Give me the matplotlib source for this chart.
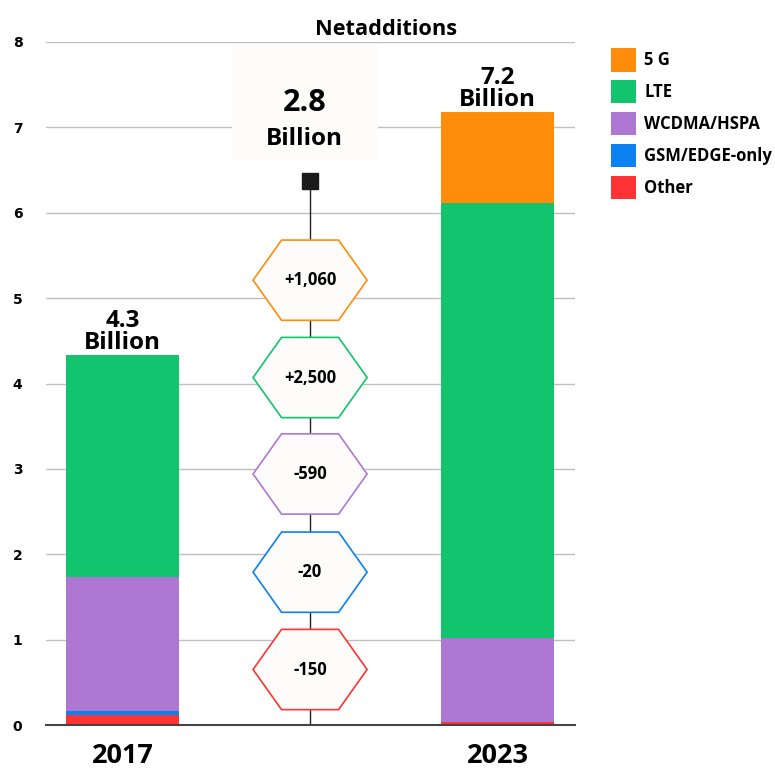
import matplotlib
matplotlib.use("Agg")
import matplotlib.pyplot as plt
from matplotlib.patches import Polygon, Rectangle, Patch

# Subscriptions by technology (billions)
years = ["2017", "2023"]
technologies = ["Other", "GSM/EDGE-only", "WCDMA/HSPA", "LTE", "5 G"]
subs_2017 = [0.12, 0.04, 1.57, 2.60, 0.0]
subs_2023 = [0.03, 0.0, 0.99, 5.09, 1.07]
# Net additions 2017-2023 (millions), same order as technologies
net_additions = ["-150", "-20", "-590", "+2,500", "+1,060"]
net_total = "2.8"
total_labels = ["4.3\nBillion", "7.2\nBillion"]
y_ticks = [0, 1, 2, 3, 4, 5, 6, 7, 8]

colors = ["#FF3333", "#0A82F0", "#AE78D2", "#12C46E", "#FF8C0A"]
TXT = "Open Sans"

fig = plt.figure(figsize=(7.75, 7.69), dpi=100)
ax = fig.add_axes([0.0594, 0.0572, 0.6826, 0.8882])

bar_x = [0, 2]
mid_x = 1
width = 0.603
for xi, vals in zip(bar_x, [subs_2017, subs_2023]):
    bottom = 0.0
    for v, c in zip(vals, colors):
        if v > 0:
            ax.bar(xi, v, width=width, bottom=bottom, color=c, zorder=3)
        bottom += v

# Totals above the bars
for xi, vals, lab in zip(bar_x, [subs_2017, subs_2023], total_labels):
    ax.text(xi, sum(vals) + 0.0, lab, ha="center", va="bottom",
            fontsize=17.5, fontweight="bold", family=TXT, linespacing=0.9,
            zorder=5)

# Middle column: stem, marker and hexagons with net additions
marker_y = 6.37
ax.plot([mid_x, mid_x], [0, marker_y], color="#222222", lw=1.0, zorder=3)
ax.plot([mid_x], [marker_y], marker="s", markersize=11.5, color="#1a1a1a",
        zorder=4)

hex_centers = [0.65, 1.79, 2.94, 4.07, 5.21]
hw = 0.304   # half width (x units)
hh = 0.47    # half height (y units)
for yc, lab, c in zip(hex_centers, net_additions, colors):
    pts = [(mid_x - hw, yc), (mid_x - hw / 2, yc + hh), (mid_x + hw / 2, yc + hh),
           (mid_x + hw, yc), (mid_x + hw / 2, yc - hh), (mid_x - hw / 2, yc - hh)]
    ax.add_patch(Polygon(pts, closed=True, facecolor="#fdfcfa", edgecolor=c,
                         lw=1.2, zorder=4))
    ax.text(mid_x, yc, lab, ha="center", va="center", fontsize=12,
            fontweight="bold", family=TXT, zorder=5)

# Label box for the total net additions
ax.add_patch(Rectangle((mid_x - 0.416, 6.62), 0.78, 1.34, facecolor="#fdfcfa",
                       edgecolor="none", zorder=2))
ax.text(mid_x - 0.03, 7.29, net_total, ha="center", va="center", fontsize=22,
        fontweight="bold", family=TXT, zorder=5)
ax.text(mid_x - 0.03, 6.86, "Billion", ha="center", va="center", fontsize=17.5,
        fontweight="bold", family=TXT, zorder=5)

# Axes styling
ax.set_xlim(-0.408, 2.413)
ax.set_ylim(0, 8)
ax.set_yticks(y_ticks)
ax.set_yticklabels([str(t) for t in y_ticks], fontsize=10, fontweight="bold")
ax.tick_params(axis="y", length=0, pad=17)
ax.set_xticks(bar_x)
ax.set_xticklabels(years, fontsize=19.5, fontweight="bold", family=TXT)
ax.tick_params(axis="x", length=0, pad=13)
for s in ["left", "right", "top"]:
    ax.spines[s].set_visible(False)
ax.spines["bottom"].set_color("#444444")
ax.spines["bottom"].set_linewidth(1.5)
ax.spines["bottom"].set_zorder(6)
ax.yaxis.grid(True, color="#bfbfbf", lw=1.0, zorder=0)
ax.set_axisbelow(True)

ax.set_title("Netadditions", fontsize=15.7, fontweight="bold", family=TXT,
             pad=5, x=0.643)

handles = [Patch(facecolor=c, edgecolor="none") for c in colors][::-1]
fig.legend(handles, technologies[::-1], loc="upper left",
           bbox_to_anchor=(0.788, 0.9376), frameon=False,
           prop={"family": TXT, "weight": "bold", "size": 12},
           handlelength=1.5, handleheight=1.8, labelspacing=0.5,
           handletextpad=0.5, borderaxespad=0, borderpad=0)

fig.savefig("out.png", dpi=100)
